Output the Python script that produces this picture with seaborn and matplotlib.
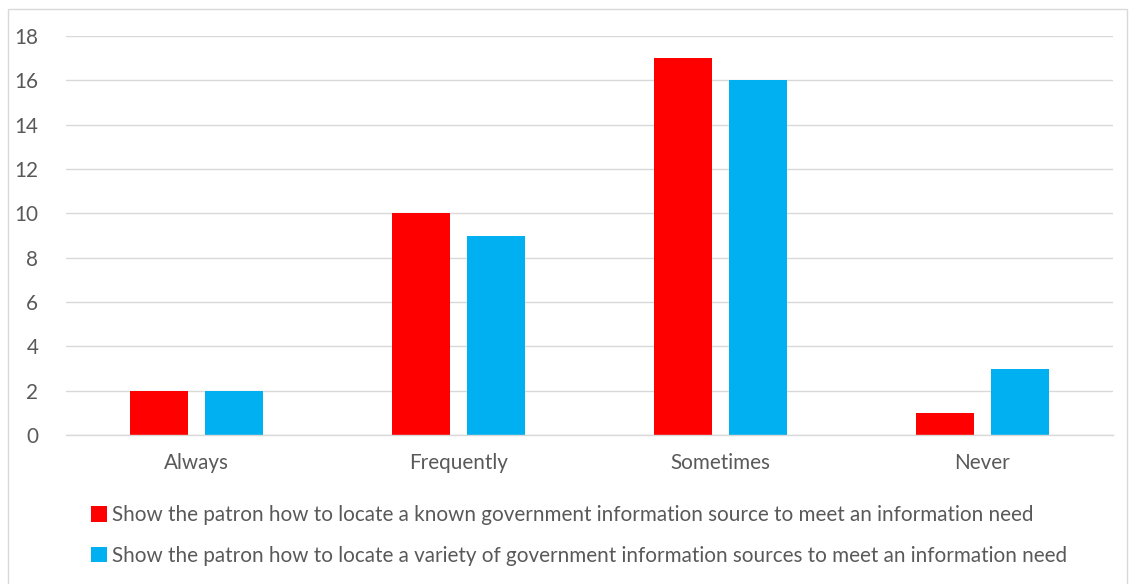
import matplotlib
matplotlib.use("Agg")
import matplotlib.pyplot as plt
import seaborn as sns
import pandas as pd
from matplotlib.patches import Rectangle, Patch

categories = ["Always", "Frequently", "Sometimes", "Never"]
series_names = [
    "Show the patron how to locate a known government information source to meet an information need",
    "Show the patron how to locate a variety of government information sources to meet an information need",
]
known_values = [2, 10, 17, 1]
variety_values = [2, 9, 16, 3]
colors = ["#FF0000", "#00B0F0"]
yticks = [0, 2, 4, 6, 8, 10, 12, 14, 16, 18]

df = pd.DataFrame({
    "category": categories * 2,
    "series": [series_names[0]] * 4 + [series_names[1]] * 4,
    "value": known_values + variety_values,
})

sns.set_style("white")
plt.rcParams["font.family"] = ["Lato", "DejaVu Sans"]
text_color = "#595959"
fs = 14.9

fig = plt.figure(figsize=(11.29, 5.84), dpi=100)
ax = fig.add_axes([66 / 1129, 1 - 435 / 584, (1113 - 66) / 1129, (435 - 36) / 584])

sns.barplot(data=df, x="category", y="value", hue="series", order=categories,
            hue_order=series_names, palette=colors, width=0.573, gap=0.225,
            saturation=1, linewidth=0, ax=ax, legend=False)

ax.set_xlim(-0.5, 3.5)
ax.set_ylim(0, 18)
ax.set_yticks(yticks)
ax.set_yticklabels([str(v) for v in yticks])
ax.set_xlabel("")
ax.set_ylabel("")
ax.grid(axis="y", color="#D9D9D9", linewidth=1.0)
ax.set_axisbelow(True)
for s in ["top", "right", "left"]:
    ax.spines[s].set_visible(False)
ax.spines["bottom"].set_color("#D9D9D9")
ax.spines["bottom"].set_linewidth(1.0)
ax.tick_params(axis="y", length=0, pad=20, labelsize=fs, labelcolor=text_color)
ax.tick_params(axis="x", length=0, pad=13, labelsize=fs, labelcolor=text_color)

handles = [Patch(facecolor=c, edgecolor="none") for c in colors]
fig.legend(handles, series_names, loc="upper left",
           bbox_to_anchor=(83 / 1129, 1 - 497 / 584), frameon=False,
           fontsize=fs, labelcolor=text_color, handlelength=0.75, handleheight=0.75,
           handletextpad=0.25, labelspacing=1.0, borderaxespad=0)

fig.patches.append(Rectangle((8 / 1129, -0.01), (1127 - 8) / 1129, 1 - 9 / 584 + 0.01,
                             transform=fig.transFigure, fill=False,
                             edgecolor="#D9D9D9", linewidth=1.0))

fig.savefig("out.png", dpi=100, facecolor="white")
